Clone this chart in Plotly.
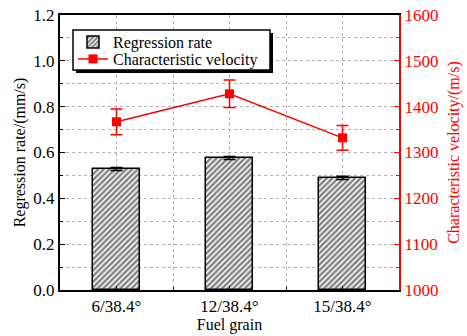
import plotly.graph_objects as go

categories = ["6/38.4°", "12/38.4°", "15/38.4°"]
regression_rate = [0.528, 0.576, 0.489]
regression_err = [0.007, 0.007, 0.007]
char_velocity = [1367, 1428, 1332]
char_velocity_err = [28, 30, 27]

xpos = list(range(len(categories)))
FONT = "Liberation Serif"
RED = "#ff0000"
L, R, T, B = 60, 68, 15, 46
PW, PH = 467 - L - R, 336 - T - B

def px(x):
    return (x - L) / PW

def py(y):
    return (336 - B - y) / PH

fig = go.Figure()
fig.add_trace(go.Bar(
    x=xpos, y=regression_rate, width=0.41, name="Regression rate", legend="legend",
    marker=dict(color="white", line=dict(color="black", width=1.5),
                pattern=dict(shape="/", fgcolor="black", bgcolor="white", size=4, solidity=0.6)),
    error_y=dict(type="data", array=regression_err, color="black", thickness=1.5, width=6),
))
fig.add_trace(go.Scatter(
    x=xpos, y=char_velocity, yaxis="y2", name="Characteristic velocity", legend="legend2",
    mode="lines+markers", line=dict(color=RED, width=1.5),
    marker=dict(symbol="square", size=9, color=RED),
    error_y=dict(type="data", array=char_velocity_err, color=RED, thickness=1.5, width=6),
))

grid = dict(showgrid=True, gridcolor="#b0b0b0", griddash="dot", gridwidth=1)
leg = dict(xanchor="left", yanchor="middle", bgcolor="rgba(0,0,0,0)", borderwidth=0,
           font=dict(size=16), itemwidth=30)
fig.update_layout(
    width=467, height=336,
    margin=dict(l=L, r=R, t=T, b=B),
    paper_bgcolor="white", plot_bgcolor="white",
    font=dict(family=FONT, size=16, color="black"),
    bargap=0,
    xaxis=dict(range=[-0.5, 2.5], tickvals=xpos, ticktext=categories, automargin=False,
               title=dict(text="Fuel grain", font=dict(size=16), standoff=2),
               tickfont=dict(size=17), showline=True, linecolor="black", linewidth=2,
               mirror=True, ticks="inside", ticklen=4, tickcolor="black",
               minor=dict(tick0=0.5, dtick=1, showgrid=True, gridcolor="#b0b0b0",
                          griddash="dot", ticks="inside", ticklen=3, tickcolor="black"),
               zeroline=False, **grid),
    yaxis=dict(range=[0, 1.2], dtick=0.2, tickformat=".1f", automargin=False,
               title=dict(text="Regression rate/(mm/s)", font=dict(size=16), standoff=4),
               tickfont=dict(size=17), showline=True, linecolor="black", linewidth=2,
               ticks="inside", ticklen=5, tickcolor="black", zeroline=False,
               minor=dict(dtick=0.1, showgrid=True, gridcolor="#b0b0b0", griddash="dot",
                          ticks="inside", ticklen=3, tickcolor="black"),
               **grid),
    yaxis2=dict(range=[1000, 1600], dtick=100, overlaying="y", side="right", automargin=False,
                title=dict(text="Characteristic velocity/(m/s)", font=dict(size=16, color=RED), standoff=10),
                tickfont=dict(size=17, color=RED), showline=True, linecolor=RED, linewidth=2,
                ticks="inside", ticklen=5, tickcolor=RED, showgrid=False, zeroline=False,
                minor=dict(dtick=50, ticks="inside", ticklen=3, tickcolor=RED)),
    legend=dict(x=px(73), y=py(42), **leg),
    legend2=dict(x=px(73), y=py(59), **leg),
    showlegend=True,
)
# legend frame with drop shadow
fig.add_shape(type="rect", xref="paper", yref="paper", layer="above",
              x0=px(76), x1=px(273), y0=py(73), y1=py(33),
              fillcolor="black", line=dict(width=0))
fig.add_shape(type="rect", xref="paper", yref="paper", layer="above",
              x0=px(73), x1=px(270), y0=py(70), y1=py(30),
              fillcolor="white", line=dict(color="black", width=1.5))
fig.write_html("out.html", config={"displayModeBar": False},
               post_script="document.body.style.margin='0';")
